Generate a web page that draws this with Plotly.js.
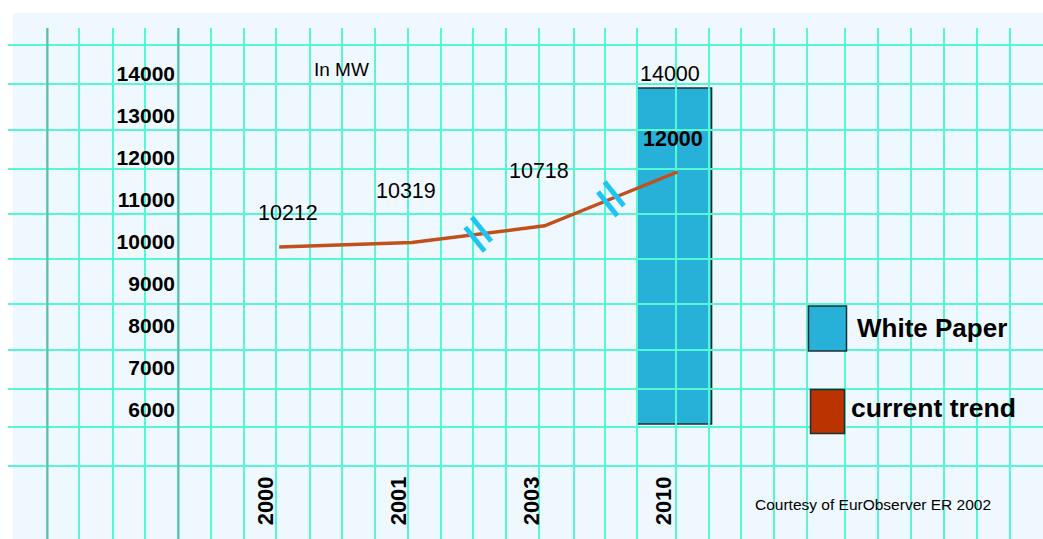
<!DOCTYPE html>
<html>
<head>
<meta charset="utf-8">
<script src="https://cdn.plot.ly/plotly-3.0.1.min.js"></script>
<style>
  html, body { margin: 0; padding: 0; background: #ffffff; }
  #chart { width: 1043px; height: 539px; }
</style>
</head>
<body>
<div id="chart"></div>
<script>
// Wind power capacity, in MW
const years = ['2000', '2001', '2003', '2010'];
const currentTrend = [10212, 10319, 10718, 12000];
const whitePaperYear = '2010';
const whitePaperTarget = 14000;
const scaleBase = 6000;
const valueTicks = [6000, 7000, 8000, 9000, 10000, 11000, 12000, 13000, 14000];
const seriesNames = ['White Paper', 'current trend'];
const unitLabel = 'In MW';
const sourceNote = 'Courtesy of EurObserver ER 2002';
// the trend skips years after these points, so its segments carry a break mark
const gapsAfter = ['2001', '2003'];

// ---------- page geometry (px) ----------
const W = 1043, H = 539;
const M = {l: 8, t: 13, r: 0, b: 0, pad: 0};
const plotW = W - M.l - M.r, plotH = H - M.t - M.b;

// value scales: year slots and MW per pixel
const slot0 = 279.2, slotStep = 132.7;
const basePx = 424, pxPerMW = 0.042;
const xRange = [(M.l - slot0) / slotStep, (W - M.r - slot0) / slotStep];
const yRange = [scaleBase - (H - M.b - basePx) / pxPerMW, scaleBase + (basePx - M.t) / pxPerMW];

// graph-paper background
const panelLeft = 13;
const gridX = [47, 79, 113, 145, 178, 211, 244, 276, 310, 342, 375, 408, 441, 473, 506, 539,
               574, 605, 637, 676, 709, 741, 774, 807, 845, 878, 911, 944, 977, 1010, 1042];
const gridY = [45, 84, 130, 169, 214, 259, 304, 350, 389, 427, 466];
const gridTop = 28;
const ruleX = [47, 178];
const valueAxisX = 178;
const yearAxisY = 471;

// colours and fonts
const PANEL = '#f0f8ff';
const GRID = '#55f7d4';
const RULE = '#62b9ab';
const BAR = '#27b1d8';
const EDGE = '#1c2f36';
const TREND = '#c2501d';
const TREND_KEY = '#bb3300';
const BREAK = '#1ec5f2';
const SANS = '"Liberation Sans", Arial, Helvetica, sans-serif';

const slotOf = y => years.indexOf(y);
const idx = years.map((_, i) => i);
const barWidth = 0.56;

const traces = [
  // target bar (drawn first, underneath the graph paper lines)
  {
    type: 'bar', xaxis: 'x', yaxis: 'y',
    name: seriesNames[0],
    x: [slotOf(whitePaperYear)],
    y: [whitePaperTarget - scaleBase],
    base: [scaleBase],
    width: barWidth,
    offset: -barWidth / 2 - 0.022,
    marker: {color: BAR, line: {color: EDGE, width: 1.6}},
    hoverinfo: 'skip', showlegend: false
  },
  // empty carrier for the graph-paper subplot
  {
    type: 'scatter', mode: 'none', xaxis: 'x2', yaxis: 'y2',
    x: [], y: [], hoverinfo: 'skip', showlegend: false
  },
  // current trend line
  {
    type: 'scatter', mode: 'lines', xaxis: 'x3', yaxis: 'y3',
    name: seriesNames[1],
    x: idx, y: currentTrend,
    line: {color: TREND, width: 3.5},
    hoverinfo: 'skip', showlegend: false
  }
];

const hidden = {
  showgrid: false, zeroline: false, showline: false,
  showticklabels: false, ticks: '', fixedrange: true
};

// value labels: offsets [right, up] in px from each point
const trendLabelOffset = [[9, 34], [-6, 52], [-6, 55], [-4, 33]];
const annotations = currentTrend.map((v, i) => ({
  xref: 'x3', yref: 'y3', x: i, y: v,
  text: String(v), showarrow: false,
  xanchor: 'center', yanchor: 'middle',
  xshift: trendLabelOffset[i][0], yshift: trendLabelOffset[i][1],
  font: {family: SANS, size: 21.5, color: '#000000',
         weight: i === currentTrend.length - 1 ? 'bold' : 'normal'}
}));
annotations.push({
  xref: 'x3', yref: 'y3', x: slotOf(whitePaperYear), y: whitePaperTarget,
  text: String(whitePaperTarget), showarrow: false,
  xanchor: 'center', yanchor: 'bottom', xshift: -7, yshift: 0,
  font: {family: SANS, size: 21.5, color: '#000000'}
});
annotations.push(
  {xref: 'x2', yref: 'y2', x: 341, y: 70, text: unitLabel, showarrow: false,
   xanchor: 'center', yanchor: 'middle', font: {family: SANS, size: 19, color: '#000000'}},
  {xref: 'x2', yref: 'y2', x: 855, y: 328, text: seriesNames[0], showarrow: false,
   xanchor: 'left', yanchor: 'middle', font: {family: SANS, size: 26, color: '#000000', weight: 'bold'}},
  {xref: 'x2', yref: 'y2', x: 849, y: 408, text: seriesNames[1], showarrow: false,
   xanchor: 'left', yanchor: 'middle', font: {family: SANS, size: 26.5, color: '#000000', weight: 'bold'}},
  {xref: 'x2', yref: 'y2', x: 873, y: 504, text: sourceNote, showarrow: false,
   xanchor: 'center', yanchor: 'middle', font: {family: SANS, size: 15.5, color: '#000000'}}
);

const shapes = [
  // paper panel
  {type: 'rect', xref: 'paper', yref: 'paper', layer: 'below',
   x0: (panelLeft - M.l) / plotW, x1: 1, y0: 0, y1: 1,
   fillcolor: PANEL, line: {width: 0}}
];
// darker rules on the graph paper
ruleX.forEach(px => shapes.push({
  type: 'line', xref: 'x2', yref: 'y2', layer: 'above',
  x0: px + 0.5, x1: px + 0.5, y0: gridTop, y1: H,
  line: {color: RULE, width: 2}
}));
// legend swatches
shapes.push(
  {type: 'rect', xref: 'x2', yref: 'y2', layer: 'above',
   x0: 808.5, x1: 846.5, y0: 306, y1: 351, fillcolor: BAR, line: {color: EDGE, width: 1.5}},
  {type: 'rect', xref: 'x2', yref: 'y2', layer: 'above',
   x0: 810.5, x1: 844.5, y0: 389.5, y1: 433.5, fillcolor: TREND_KEY, line: {color: EDGE, width: 1.5}}
);
// break marks: a pair of slashes across each gap segment
const slashes = [[-13, 7, 6.4, -17], [-6.4, 17, 13, -7]];
gapsAfter.forEach(y => {
  const i = slotOf(y);
  const xa = (i + i + 1) / 2;
  const ya = (currentTrend[i] + currentTrend[i + 1]) / 2;
  slashes.forEach(s => shapes.push({
    type: 'line', xref: 'x3', yref: 'y3', layer: 'above',
    xsizemode: 'pixel', ysizemode: 'pixel', xanchor: xa, yanchor: ya,
    x0: s[0], y0: s[1], x1: s[2], y1: s[3],
    line: {color: BREAK, width: 5}
  }));
});

const layout = {
  width: W, height: H,
  margin: M,
  paper_bgcolor: '#ffffff',
  plot_bgcolor: 'rgba(0,0,0,0)',
  showlegend: false,
  hovermode: false,
  // bar scale
  xaxis: Object.assign({domain: [0, 1], range: xRange, anchor: 'y'}, hidden),
  yaxis: Object.assign({domain: [0, 1], range: yRange, anchor: 'x'}, hidden),
  // graph paper, in page pixels
  xaxis2: {
    domain: [0, 1], range: [M.l, W - M.r], anchor: 'y2',
    tickmode: 'array', tickvals: gridX, showgrid: true, gridcolor: GRID, gridwidth: 1.3,
    zeroline: false, showline: false, showticklabels: false, ticks: '', fixedrange: true
  },
  yaxis2: {
    domain: [0, (H - M.b - gridTop) / plotH], range: [H - M.b, gridTop], anchor: 'x2',
    tickmode: 'array', tickvals: gridY, showgrid: true, gridcolor: GRID, gridwidth: 1.3,
    zeroline: false, showline: false, showticklabels: false, ticks: '', fixedrange: true
  },
  // trend scale with the visible year and MW labels
  xaxis3: {
    domain: [0, 1], range: xRange, anchor: 'free',
    position: (H - M.b - yearAxisY) / plotH,
    tickmode: 'array', tickvals: idx, ticktext: years, tickangle: -90,
    tickfont: {family: SANS, size: 22, color: '#000000', weight: 'bold'},
    ticklabelshift: -13,
    showgrid: false, zeroline: false, showline: false, ticks: '', fixedrange: true
  },
  yaxis3: {
    domain: [0, 1], range: yRange, anchor: 'free', side: 'left',
    position: (valueAxisX - M.l) / plotW,
    tickmode: 'array', tickvals: valueTicks, ticktext: valueTicks.map(String),
    tickfont: {family: SANS, size: 21, color: '#000000', weight: 'bold'},
    ticklabelshift: -14, ticklabelstandoff: 3,
    showgrid: false, zeroline: false, showline: false, ticks: '', fixedrange: true
  },
  annotations: annotations,
  shapes: shapes
};

Plotly.newPlot('chart', traces, layout, {staticPlot: true, displayModeBar: false});
</script>
</body>
</html>
